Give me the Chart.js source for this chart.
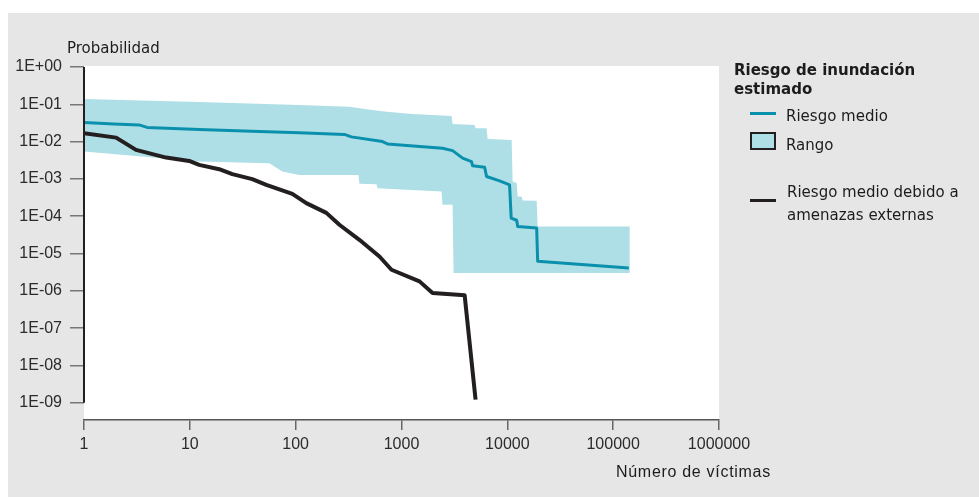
<!DOCTYPE html>
<html>
<head>
<meta charset="utf-8">
<script src="https://cdn.jsdelivr.net/npm/chart.js@4/dist/chart.umd.min.js"></script>
<style>
  html, body { margin:0; padding:0; background:#ffffff; }
  body { width:979px; height:497px; position:relative; overflow:hidden; }
  #bg { position:absolute; left:8px; top:13px; right:0; bottom:0; background:#e6e6e6; }
  #c { position:absolute; left:0; top:0; }
  .t { position:absolute; white-space:nowrap; color:#1c1c1c; font-family:"DejaVu Sans", Verdana, sans-serif; font-size:15px; line-height:18px; }
  .sw { position:absolute; box-sizing:border-box; }
</style>
</head>
<body>
<div id="bg"></div>
<canvas id="c" width="979" height="497"></canvas>

<div class="t" style="left:67px; top:39px;">Probabilidad</div>
<div class="t" style="left:616px; top:462px; font-family:'Liberation Sans', Arial, sans-serif; font-size:16px; line-height:20px; letter-spacing:0.7px;">Número de víctimas</div>

<div class="t" style="left:734px; top:61px; font-weight:bold; line-height:19.3px;">Riesgo de inundación<br>estimado</div>
<div class="sw" style="left:750px; top:111.5px; width:26px; height:3px; background:#0a90ad;"></div>
<div class="t" style="left:786px; top:106.5px;">Riesgo medio</div>
<div class="sw" style="left:750px; top:132px; width:26px; height:18px; background:#aedfe6; border:2px solid #231f20;"></div>
<div class="t" style="left:786px; top:136px;">Rango</div>
<div class="sw" style="left:750px; top:199px; width:26px; height:3px; background:#231f20;"></div>
<div class="t" style="left:787px; top:181.4px; line-height:22.3px;">Riesgo medio debido a<br>amenazas externas</div>

<script>
// ---- Data (log-log) ----
const xTickValues = [1, 10, 100, 1000, 10000, 100000, 1000000];
const xTickLabels = ['1', '10', '100', '1000', '10000', '100000', '1000000'];
const yTickValues = [1e-9, 1e-8, 1e-7, 1e-6, 1e-5, 1e-4, 1e-3, 1e-2, 1e-1, 1];
const yTickLabels = ['1E-09', '1E-08', '1E-07', '1E-06', '1E-05', '1E-04', '1E-03', '1E-02', '1E-01', '1E+00'];

// Riesgo medio (mean risk)
const meanX = [1, 1.92, 3.31, 3.95, 12.25, 45.3, 108, 289, 336, 661, 737, 2440, 3040, 3780, 4590, 4700, 6100, 6370, 8450, 10500, 10870, 12250, 12530, 18930, 19350, 140600];
const meanY = [0.0323, 0.0298, 0.028, 0.024, 0.0212, 0.0188, 0.0174, 0.0156, 0.0134, 0.0100, 0.00868, 0.00665, 0.00574, 0.0036, 0.00292, 0.00224, 0.00206, 0.00116, 0.000887, 0.000693, 0.000089, 0.000078, 0.000053, 0.000048, 0.0000062, 0.00000407];

// Rango (range band) upper and lower limits
const upperX = [1, 12.25, 108, 322, 466, 721, 1270, 2970, 3040, 4910, 5010, 6370, 6510, 10990, 11220, 12250, 12530, 13670, 13960, 18930, 19350, 143700];
const upperY = [0.139, 0.1156, 0.0961, 0.0866, 0.0737, 0.0636, 0.0552, 0.0488, 0.0298, 0.028, 0.0228, 0.0228, 0.0118, 0.0111, 0.00085, 0.00078, 0.000337, 0.00033, 0.000263, 0.000258, 0.000053, 0.000053];
const lowerX = [1, 12.25, 56.3, 74.8, 108, 392, 400, 580, 593, 2390, 2440, 3040, 3105, 143700];
const lowerY = [0.0054, 0.00292, 0.00264, 0.00157, 0.00128, 0.00128, 0.000737, 0.000714, 0.000566, 0.000459, 0.000202, 0.000202, 0.0000030, 0.0000030];

// Riesgo medio debido a amenazas externas
const extX = [1, 2.01, 3.1, 5.97, 9.86, 12.25, 18.95, 25.2, 38.9, 52.8, 93, 126, 195, 259, 400, 619, 804, 1480, 1965, 3950, 5010];
const extY = [0.0168, 0.0128, 0.006, 0.00373, 0.00304, 0.00238, 0.00182, 0.00134, 0.000985, 0.000693, 0.000398, 0.000224, 0.000123, 0.000059, 0.0000233, 0.0000083, 0.00000367, 0.00000179, 0.00000087, 0.00000076, 0.00000000121];

const pts = (xs, ys) => xs.map((x, i) => ({ x: x, y: ys[i] }));

const plotBg = {
  id: 'plotBg',
  beforeDraw(chart) {
    const { ctx, chartArea: a } = chart;
    ctx.save();
    ctx.fillStyle = '#ffffff';
    ctx.fillRect(a.left, a.top, a.right - a.left, a.bottom - a.top);
    ctx.restore();
  }
};
const yAxisLine = {
  id: 'yAxisLine',
  afterDatasetsDraw(chart) {
    const { ctx, chartArea: a, scales } = chart;
    const y0 = scales.y.getPixelForValue(yTickValues[yTickValues.length - 1]);
    const y1 = scales.y.getPixelForValue(yTickValues[0]);
    ctx.save();
    ctx.strokeStyle = '#231f20';
    ctx.lineWidth = 2;
    ctx.beginPath();
    ctx.moveTo(a.left, y0);
    ctx.lineTo(a.left, y1);
    ctx.stroke();
    ctx.restore();
  }
};

new Chart(document.getElementById('c'), {
  type: 'line',
  data: {
    datasets: [
      { label: 'Rango', data: pts(upperX, upperY), borderColor: 'rgba(0,0,0,0)', borderWidth: 0,
        backgroundColor: '#aedfe6', fill: '+1', pointRadius: 0, order: 4 },
      { label: 'Rango (inferior)', data: pts(lowerX, lowerY), borderColor: 'rgba(0,0,0,0)', borderWidth: 0,
        backgroundColor: '#aedfe6', fill: false, pointRadius: 0, order: 5 },
      { label: 'Riesgo medio debido a amenazas externas', data: pts(extX, extY), borderColor: '#231f20',
        borderWidth: 4, fill: false, pointRadius: 0, order: 2, borderJoinStyle: 'round' },
      { label: 'Riesgo medio', data: pts(meanX, meanY), borderColor: '#0a90ad',
        borderWidth: 3, fill: false, pointRadius: 0, order: 1, borderJoinStyle: 'round' }
    ]
  },
  options: {
    responsive: false,
    animation: false,
    events: [],
    layout: { padding: { left: 0, right: 260, top: 66, bottom: 0 } },
    plugins: { legend: { display: false }, tooltip: { enabled: false } },
    elements: { line: { tension: 0 } },
    scales: {
      x: {
        type: 'logarithmic', min: 1, max: 1000000, bounds: 'data',
        afterFit(s) { s.height = 77; },
        afterBuildTicks(s) { s.ticks = xTickValues.map(v => ({ value: v })); },
        ticks: { callback: (v, i) => xTickLabels[i], autoSkip: false, maxRotation: 0, padding: 5,
                 color: '#2b2b2b', font: { family: 'Liberation Sans', size: 16 } },
        grid: { drawOnChartArea: false, drawTicks: true, tickLength: 10, color: '#666', lineWidth: 1.5 },
        border: { display: true, color: '#555', width: 1.5 }
      },
      y: {
        type: 'logarithmic', min: 3.44e-10, max: 1.064, bounds: 'data',
        afterFit(s) { s.width = 84; },
        afterBuildTicks(s) { s.ticks = yTickValues.map(v => ({ value: v })); },
        ticks: { callback: (v, i) => yTickLabels[i], autoSkip: false, padding: 8,
                 color: '#2b2b2b', font: { family: 'Liberation Sans', size: 16 } },
        grid: { drawOnChartArea: false, drawTicks: true, tickLength: 14, color: '#777', lineWidth: 1.5 },
        border: { display: false }
      }
    }
  },
  plugins: [plotBg, yAxisLine]
});
</script>
</body>
</html>
